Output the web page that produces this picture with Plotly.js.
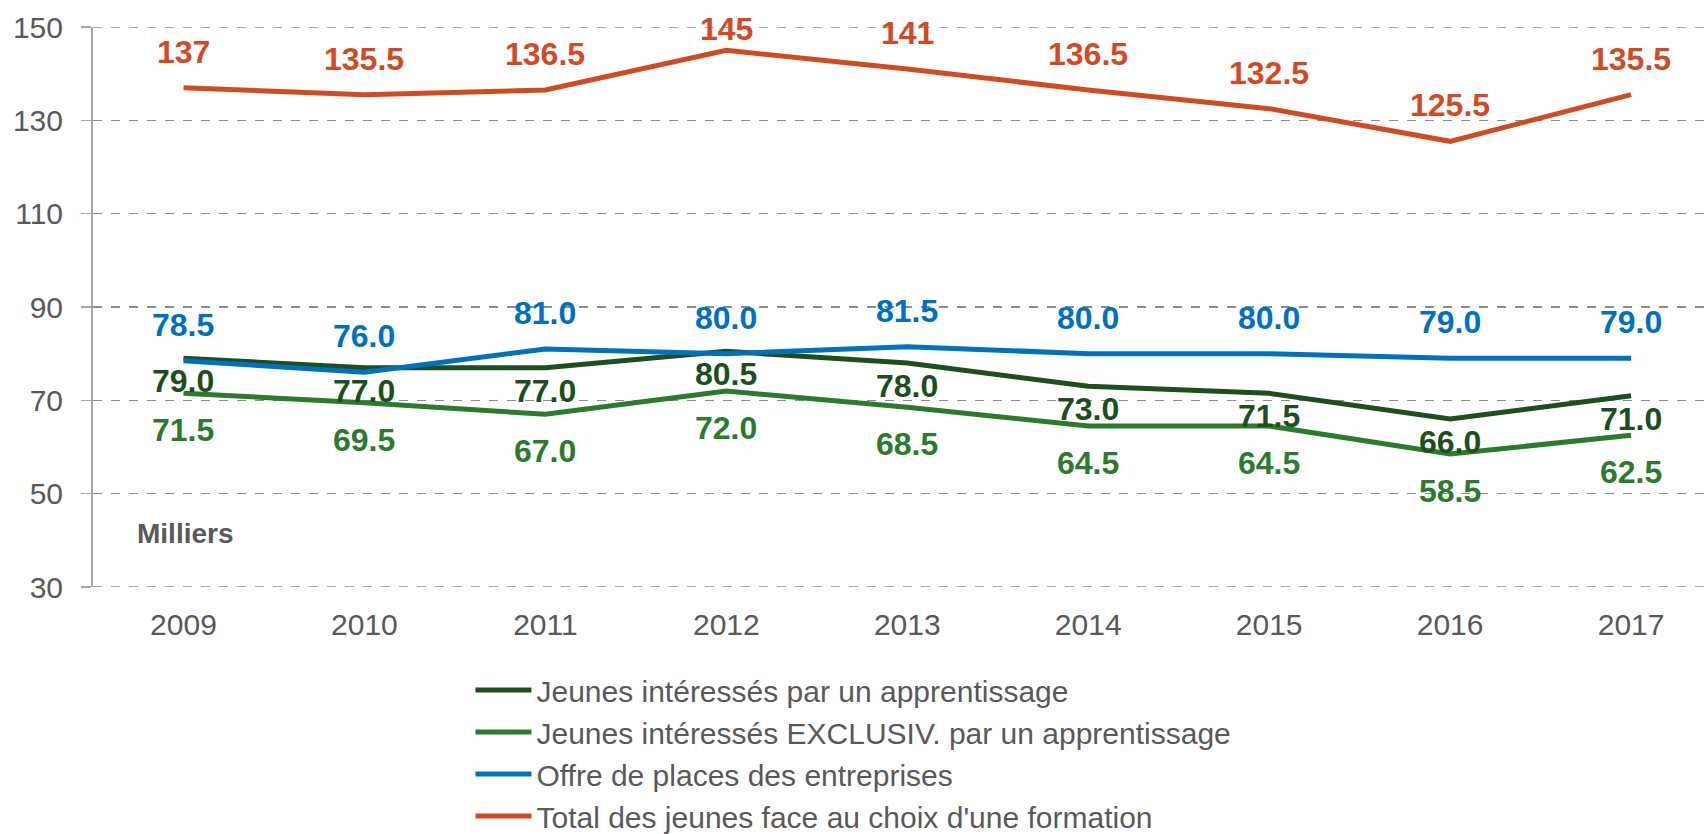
<!DOCTYPE html>
<html>
<head>
<meta charset="utf-8">
<script src="https://cdn.plot.ly/plotly-3.0.1.min.js"></script>
<style>
  html, body { margin: 0; padding: 0; background: #ffffff; }
  #chart { width: 1706px; height: 834px; }
</style>
</head>
<body>
<div id="chart"></div>
<script>
// ---- Data ----
const years = ["2009", "2010", "2011", "2012", "2013", "2014", "2015", "2016", "2017"];
const jeunesApprentissage = [79.0, 77.0, 77.0, 80.5, 78.0, 73.0, 71.5, 66.0, 71.0];
const jeunesExclusiv = [71.5, 69.5, 67.0, 72.0, 68.5, 64.5, 64.5, 58.5, 62.5];
const offrePlaces = [78.5, 76.0, 81.0, 80.0, 81.5, 80.0, 80.0, 79.0, 79.0];
const totalJeunes = [137, 135.5, 136.5, 145, 141, 136.5, 132.5, 125.5, 135.5];
const seriesNames = [
  "Jeunes intéressés par un apprentissage",
  "Jeunes intéressés EXCLUSIV. par un apprentissage",
  "Offre de places des entreprises",
  "Total des jeunes face au choix d'une formation"
];
const yTicks = [30, 50, 70, 90, 110, 130, 150];

// ---- Styles ----
const FONT = "'Liberation Sans', Arial, Helvetica, sans-serif";
const GRAY = "#595959";
const GRID = "#8C8C8C";
const W = 1706, H = 834;
const M = { l: 93, r: 0, t: 27, b: 247, autoexpand: false };
const Y_RANGE = [yTicks[0], yTicks[yTicks.length - 1]];
const pxPerUnit = (H - M.t - M.b) / (Y_RANGE[1] - Y_RANGE[0]);
const MIN_LABEL_TOP = 29; // labels are kept inside the chart (centre at least this far from top)

const series = [
  { name: seriesNames[0], y: jeunesApprentissage, color: "#1C4F1D", shift: -23, fmt: v => v.toFixed(1) },
  { name: seriesNames[1], y: jeunesExclusiv,      color: "#2A7B2C", shift: -37, fmt: v => v.toFixed(1) },
  { name: seriesNames[2], y: offrePlaces,         color: "#0070C0", shift: 36,  fmt: v => v.toFixed(1) },
  { name: seriesNames[3], y: totalJeunes,         color: "#D24A24", shift: 36,  fmt: v => String(v) }
];

const traces = series.map(s => ({
  type: "scatter",
  mode: "lines",
  x: years,
  y: s.y,
  name: s.name,
  line: { color: s.color, width: 5 },
  hoverinfo: "x+y"
}));

const annotations = [];
series.forEach(s => {
  s.y.forEach((v, i) => {
    // keep label from leaving the chart at the top
    const roomAbove = M.t + (Y_RANGE[1] - v) * pxPerUnit - MIN_LABEL_TOP;
    const shift = s.shift > 0 ? Math.min(s.shift, roomAbove) : s.shift;
    annotations.push({
      x: i, y: v, xref: "x", yref: "y",
      text: "<b>" + s.fmt(v) + "</b>",
      showarrow: false,
      xanchor: "center", yanchor: "middle",
      yshift: shift,
      font: { family: FONT, size: 32, color: s.color }
    });
  });
});
annotations.push({
  xref: "paper", yref: "paper", x: 0.057, y: 0.0964,
  text: "<b>Milliers</b>", showarrow: false,
  xanchor: "center", yanchor: "middle",
  font: { family: FONT, size: 28, color: GRAY }
});

// edge gridlines (30 and 150), which Plotly omits at the range limits
const shapes = Y_RANGE.map(v => ({
  type: "line", xref: "paper", yref: "y",
  x0: 0, x1: 1, y0: v, y1: v,
  line: { color: GRID, width: 1.5, dash: "dash" },
  layer: "below"
}));

const layout = {
  width: W, height: H,
  margin: M,
  paper_bgcolor: "#ffffff", plot_bgcolor: "#ffffff",
  font: { family: FONT, color: GRAY },
  showlegend: true,
  legend: {
    x: 0.234, y: -0.1375, xanchor: "left", yanchor: "top",
    orientation: "v",
    font: { family: FONT, size: 30, color: GRAY },
    itemwidth: 56,
    bgcolor: "rgba(0,0,0,0)"
  },
  xaxis: {
    type: "category",
    range: [-0.5, 8.414],
    showgrid: false, zeroline: false, showline: false,
    ticks: "outside", ticklen: 11, tickcolor: "rgba(0,0,0,0)",
    tickfont: { family: FONT, size: 30, color: GRAY },
    fixedrange: true
  },
  yaxis: {
    range: Y_RANGE,
    tickvals: yTicks,
    ticktext: yTicks.map(String),
    showgrid: true, gridcolor: GRID, gridwidth: 1.5, griddash: "dash",
    zeroline: false,
    showline: true, linecolor: "#A6A6A6", linewidth: 2,
    ticks: "outside", ticklen: 10, tickcolor: "#A6A6A6", tickwidth: 1.5,
    ticklabelstandoff: 12,
    tickfont: { family: FONT, size: 30, color: GRAY },
    fixedrange: true
  },
  shapes: shapes,
  annotations: annotations
};

Plotly.newPlot("chart", traces, layout, { displayModeBar: false, staticPlot: true });
</script>
</body>
</html>
